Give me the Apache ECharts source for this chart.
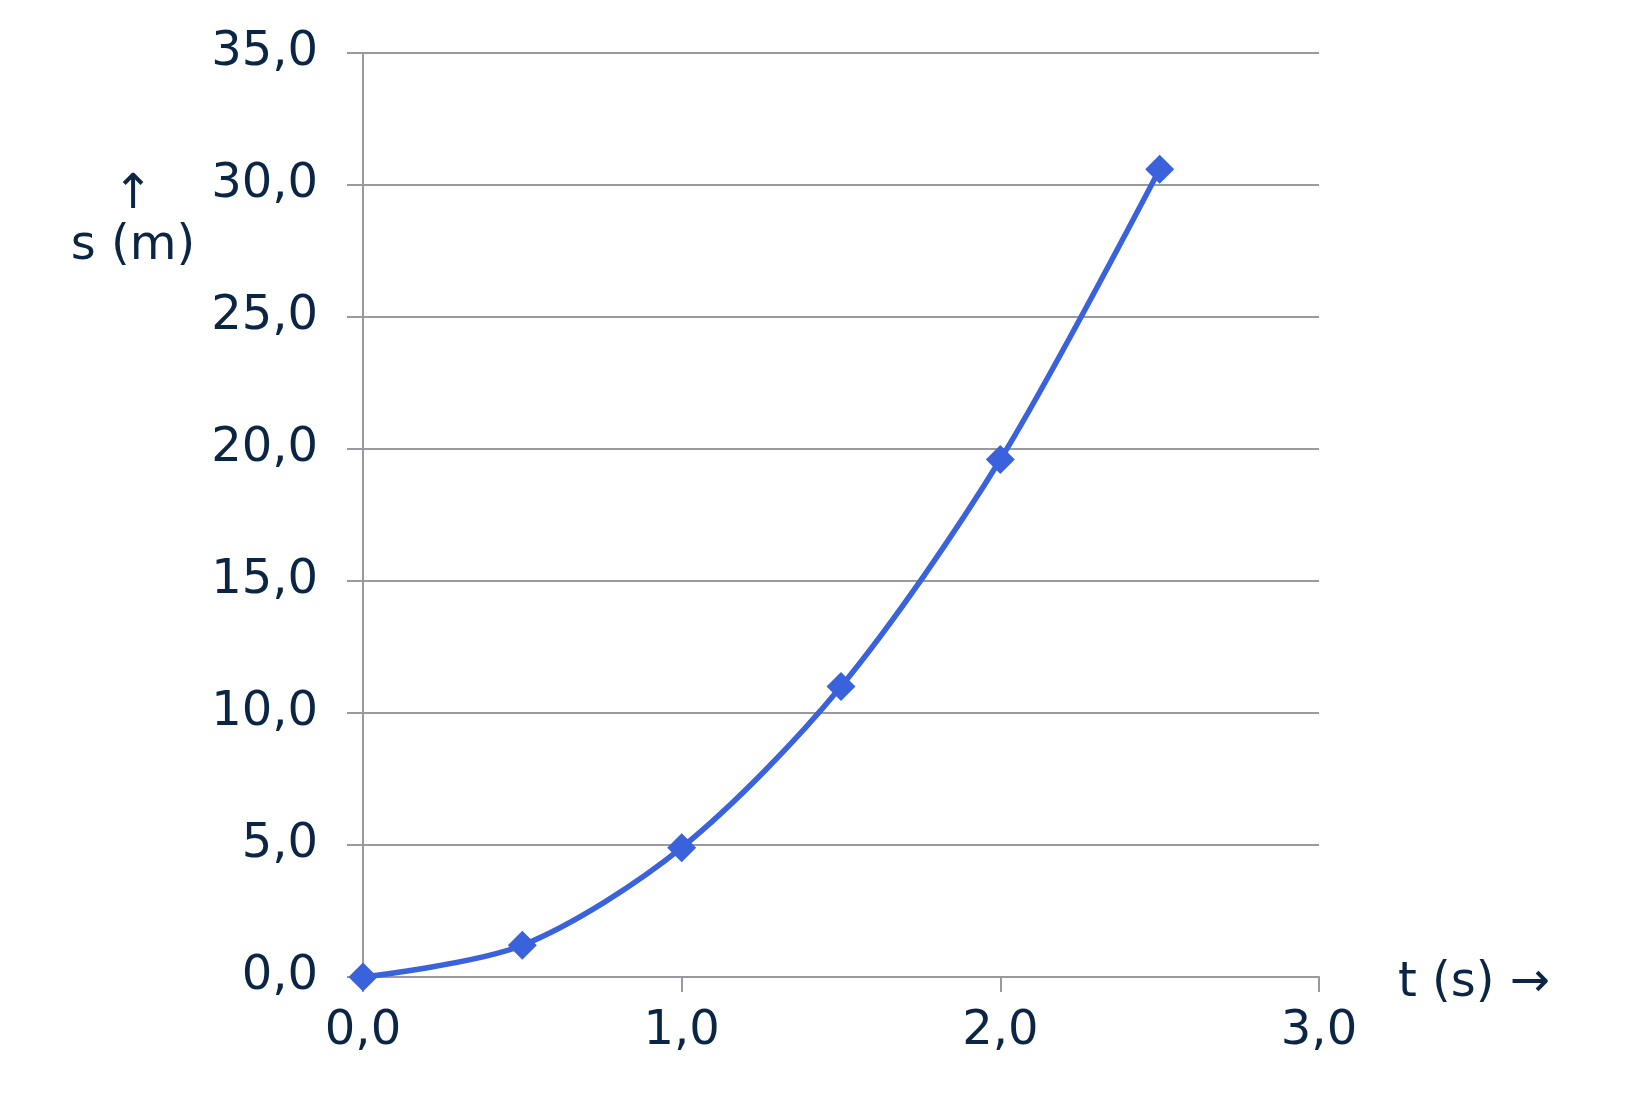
<!DOCTYPE html>
<html>
<head>
<meta charset="utf-8">
<script src="https://cdn.jsdelivr.net/npm/echarts@6/dist/echarts.min.js"></script>
<style>
html,body{margin:0;padding:0;background:#fff;}
#chart{width:1627px;height:1095px;}
</style>
</head>
<body>
<div id="chart"></div>
<script>
const tValues = [0.0, 0.5, 1.0, 1.5, 2.0, 2.5];
const sValues = [0.0, 1.2, 4.9, 11.0, 19.6, 30.6];
const xTicks = [0, 1, 2, 3];
const yTicks = [0, 5, 10, 15, 20, 25, 30, 35];
const yName = 's (m)';
const xName = 't (s) →';

const textColor = '#0b2545';
const gridColor = '#9a9a9e';
const fontFamily = '"DejaVu Sans", Verdana, sans-serif';
const fs = 48;
const fmt = v => v.toFixed(1).replace('.', ',');

const chart = echarts.init(document.getElementById('chart'));
chart.setOption({
  animation: false,
  backgroundColor: '#ffffff',
  grid: { left: 363, right: 308, top: 53, bottom: 118 },
  xAxis: {
    type: 'value', min: xTicks[0], max: xTicks[xTicks.length - 1], interval: 1,
    axisLine: { show: true, lineStyle: { color: gridColor, width: 2 } },
    axisTick: { show: true, length: 15, lineStyle: { color: gridColor, width: 2 } },
    splitLine: { show: false },
    axisLabel: { formatter: fmt, color: textColor, fontSize: fs, fontFamily, margin: 31 }
  },
  yAxis: {
    type: 'value', min: yTicks[0], max: yTicks[yTicks.length - 1], interval: 5,
    axisLine: { show: true, lineStyle: { color: gridColor, width: 2 } },
    axisTick: { show: true, length: 16, lineStyle: { color: gridColor, width: 2 } },
    splitLine: { show: true, lineStyle: { color: gridColor, width: 2 } },
    axisLabel: { formatter: fmt, color: textColor, fontSize: fs, fontFamily, margin: 45 }
  },
  graphic: [
    { type: 'text', x: 133, y: 196, style: { text: '↑', fill: textColor, font: fs + 'px ' + fontFamily, align: 'center', verticalAlign: 'middle' } },
    { type: 'text', x: 133, y: 247, style: { text: yName, fill: textColor, font: fs + 'px ' + fontFamily, align: 'center', verticalAlign: 'middle' } },
    { type: 'text', x: 1398, y: 984, style: { text: xName, fill: textColor, font: fs + 'px ' + fontFamily, align: 'left', verticalAlign: 'middle' } }
  ],
  series: [{
    type: 'line',
    data: tValues.map((t, i) => [t, sValues[i]]),
    smooth: 0.3,
    symbol: 'diamond',
    symbolSize: 29,
    lineStyle: { color: '#3a62dc', width: 5.5 },
    itemStyle: { color: '#3a62dc' }
  }]
});
</script>
</body>
</html>
